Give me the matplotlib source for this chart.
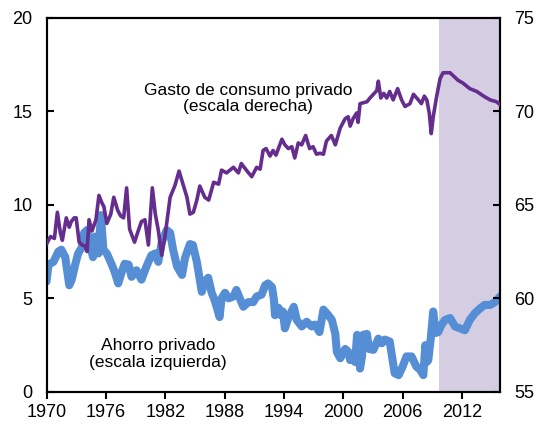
import matplotlib.pyplot as plt

plt.rcParams['font.family'] = ['Liberation Sans', 'DejaVu Sans']

# Gasto de consumo privado (escala derecha)
gasto_anio = [1970.0, 1970.4, 1970.8, 1971.1, 1971.4, 1971.6, 1972.0, 1972.3, 1972.5, 1972.8,
              1973.0, 1973.3, 1973.6, 1973.9, 1974.1, 1974.3, 1974.6, 1975.0, 1975.3, 1975.6,
              1975.8, 1976.1, 1976.5, 1976.8, 1977.2, 1977.5, 1977.8, 1978.1, 1978.4, 1978.9,
              1979.3, 1979.6, 1979.95, 1980.3, 1980.7, 1981.0, 1981.3, 1981.65, 1982.0, 1982.5,
              1983.0, 1983.4, 1983.8, 1984.2, 1984.5, 1984.85, 1985.2, 1985.5, 1986.0, 1986.4,
              1986.9, 1987.4, 1987.7, 1988.2, 1988.9, 1989.4, 1989.7, 1990.2, 1990.75, 1991.25,
              1991.6, 1991.9, 1992.2, 1992.6, 1992.9, 1993.2, 1993.8, 1994.1, 1994.45, 1994.8,
              1995.1, 1995.45, 1995.8, 1996.2, 1996.6, 1996.95, 1997.3, 1997.65, 1998.0, 1998.3,
              1998.8, 1999.2, 1999.7, 2000.2, 2000.5, 2000.7, 2001.0, 2001.35, 2001.5, 2001.7,
              2002.4, 2002.7, 2003.05, 2003.4, 2003.55, 2003.8, 2004.1, 2004.4, 2004.7, 2005.05,
              2005.5, 2005.9, 2006.25, 2006.75, 2007.1, 2007.6, 2007.9, 2008.2, 2008.45, 2008.7,
              2008.9, 2009.1, 2009.45, 2009.8, 2010.1, 2010.8, 2011.1, 2011.6, 2012.1, 2012.8,
              2013.5, 2014.2, 2014.85, 2015.5, 2015.85]
gasto_valor = [62.9, 63.3, 63.2, 64.6, 63.5, 63.1, 64.3, 63.8, 64.1, 64.3,
               64.3, 63.0, 62.85, 62.8, 62.5, 64.2, 63.6, 64.2, 65.5, 65.1,
               64.9, 64.0, 64.5, 65.4, 64.7, 64.4, 64.3, 65.9, 63.7, 63.0,
               63.65, 64.1, 64.2, 62.85, 65.9, 64.5, 63.65, 62.3, 63.4, 65.4,
               66.05, 66.8, 66.1, 65.4, 64.5, 64.6, 65.25, 66.0, 65.4, 65.25,
               66.2, 66.1, 66.85, 66.7, 67.0, 66.7, 67.2, 66.85, 66.5, 67.0,
               66.9, 67.9, 68.0, 67.6, 67.9, 67.65, 68.5, 68.2, 68.0, 68.1,
               67.5, 68.3, 68.2, 68.7, 68.0, 68.1, 67.7, 67.75, 67.7, 68.4,
               68.7, 68.2, 69.1, 69.6, 69.7, 69.2, 69.6, 69.9, 69.4, 70.4,
               70.5, 70.7, 70.9, 71.1, 71.6, 70.7, 70.95, 70.7, 71.05, 70.6,
               71.2, 70.6, 70.25, 70.4, 70.9, 70.6, 70.4, 70.8, 70.6, 69.9,
               68.8, 69.7, 70.8, 71.75, 72.05, 72.05, 71.9, 71.65, 71.5, 71.2,
               71.05, 70.8, 70.6, 70.5, 70.35]

# Ahorro privado (escala izquierda)
ahorro_anio = [1970.0, 1970.2, 1970.7, 1971.2, 1971.5, 1971.9, 1972.3, 1972.55, 1972.9, 1973.2,
               1973.55, 1973.8, 1974.1, 1974.4, 1974.7, 1974.9, 1975.25, 1975.5, 1975.75, 1976.1,
               1976.6, 1976.9, 1977.25, 1977.6, 1977.9, 1978.3, 1978.6, 1979.1, 1979.6, 1980.1,
               1980.6, 1981.0, 1981.3, 1981.65, 1982.15, 1982.5, 1982.8, 1983.2, 1983.7, 1984.0,
               1984.5, 1984.8, 1985.2, 1985.5, 1985.7, 1986.0, 1986.35, 1986.7, 1987.0, 1987.2,
               1987.5, 1987.7, 1988.05, 1988.4, 1988.9, 1989.2, 1989.55, 1989.9, 1990.4, 1990.9,
               1991.25, 1991.75, 1992.1, 1992.4, 1992.8, 1993.0, 1993.1, 1993.45, 1993.7, 1993.9,
               1994.1, 1994.45, 1995.0, 1995.3, 1995.8, 1996.3, 1996.8, 1997.15, 1997.6, 1998.0,
               1998.5, 1998.85, 1999.2, 1999.35, 1999.7, 2000.2, 2000.5, 2000.7, 2001.0, 2001.2,
               2001.4, 2001.7, 2001.9, 2002.0, 2002.4, 2002.6, 2003.05, 2003.55, 2003.9, 2004.2,
               2004.7, 2005.0, 2005.2, 2005.6, 2006.0, 2006.4, 2006.9, 2007.4, 2007.75, 2008.1,
               2008.3, 2008.45, 2008.6, 2008.85, 2009.1, 2009.35, 2009.6, 2009.95, 2010.3, 2010.8,
               2011.3, 2011.8, 2012.3, 2012.8, 2013.3, 2013.8, 2014.3, 2014.85, 2015.35, 2015.85]
ahorro_valor = [5.9, 6.8, 6.95, 7.5, 7.6, 7.2, 5.7, 6.0, 6.8, 7.4,
                7.7, 8.5, 8.65, 7.9, 7.2, 8.3, 7.4, 9.45, 7.6, 7.4,
                6.8, 6.4, 5.8, 6.4, 6.85, 6.8, 6.15, 6.5, 6.0, 6.7,
                7.3, 7.4, 6.95, 8.0, 8.65, 8.5, 7.6, 6.7, 6.25, 7.15,
                7.9, 7.85, 6.95, 6.0, 5.35, 5.9, 6.1, 5.3, 4.9, 4.55,
                4.0, 5.0, 5.3, 5.0, 5.1, 5.45, 5.0, 4.55, 4.8, 4.8,
                5.1, 5.2, 5.7, 5.8, 5.6, 4.9, 4.1, 4.5, 4.1, 4.3,
                3.4, 3.95, 4.55, 3.85, 3.5, 3.75, 3.5, 3.6, 3.2, 4.4,
                4.1, 3.85, 3.1, 2.15, 1.8, 2.3, 2.15, 1.7, 1.9, 1.6,
                3.05, 1.25, 1.9, 3.05, 3.1, 2.3, 2.25, 2.85, 2.6, 2.8,
                2.7, 1.7, 1.0, 0.9, 1.35, 1.9, 1.9, 1.35, 1.2, 0.9,
                2.5, 1.6, 1.7, 2.85, 4.3, 3.15, 3.2, 3.6, 3.85, 3.95,
                3.5, 3.4, 3.3, 3.85, 4.2, 4.45, 4.65, 4.65, 4.8, 5.1]

X_TICKS = [1970, 1976, 1982, 1988, 1994, 2000, 2006, 2012]
SOMBRA = (2009.7, 2015.85)

fig = plt.figure(figsize=(5.42, 4.24), dpi=100)
ax = fig.add_axes([0.0858, 0.0755, 0.8367, 0.8832])
ax2 = ax.twinx()

ax.axvspan(SOMBRA[0], SOMBRA[1], color="#d5cee3", lw=0, zorder=0)
ax.plot(ahorro_anio, ahorro_valor, color="#558ed5", lw=5.8,
        solid_capstyle="round", solid_joinstyle="round", zorder=2)
ax2.plot(gasto_anio, gasto_valor, color="#652d8e", lw=2.6,
         solid_joinstyle="round", zorder=3)

ax.set_xlim(1970, 2015.85)
ax.set_ylim(0, 20)
ax2.set_ylim(55, 75)
ax.set_xticks(X_TICKS)
ax.set_yticks([0, 5, 10, 15, 20])
ax2.set_yticks([55, 60, 65, 70, 75])

for a in (ax, ax2):
    for s in a.spines.values():
        s.set_linewidth(1.5)
    a.tick_params(axis="y", direction="in", length=5, width=1.5, labelsize=13, pad=10)
ax.tick_params(axis="x", direction="out", length=5, width=1.5, labelsize=13, pad=4, top=False)

# posiciones en pixeles de la figura (origen abajo a la izquierda)
ax.text(248, 424 - 98.5, "Gasto de consumo privado\n(escala derecha)", transform=None,
        ha="center", va="center", fontsize=12.5, linespacing=1.1)
ax.text(158, 424 - 354, "Ahorro privado\n(escala izquierda)", transform=None,
        ha="center", va="center", fontsize=12.5, linespacing=1.1)

plt.savefig("out.png", dpi=100)
